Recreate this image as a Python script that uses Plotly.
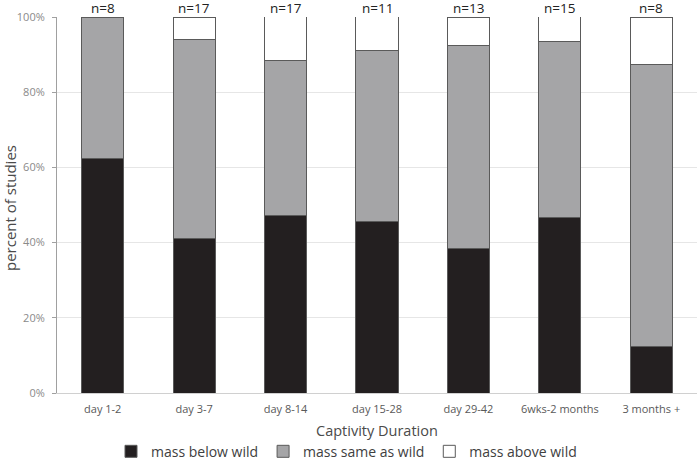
import plotly.graph_objects as go

categories = ["day 1-2", "day 3-7", "day 8-14", "day 15-28", "day 29-42", "6wks-2 months", "3 months +"]
n_labels = ["n=8", "n=17", "n=17", "n=11", "n=13", "n=15", "n=8"]
below = [62.5, 41.2, 47.1, 45.5, 38.5, 46.7, 12.5]
same = [37.5, 52.9, 41.2, 45.5, 53.8, 46.7, 75.0]
above = [0.0, 5.9, 11.8, 9.1, 7.7, 6.7, 12.5]

font = "Open Sans, Liberation Sans, sans-serif"
line = dict(color="#5a5a5a", width=1)

fig = go.Figure()
fig.add_trace(go.Bar(x=categories, y=below, name="mass below wild",
                     marker=dict(color="#231f20", line=line)))
fig.add_trace(go.Bar(x=categories, y=same, name="mass same as wild",
                     marker=dict(color="#a5a5a7", line=line)))
fig.add_trace(go.Bar(x=categories, y=above, name="mass above wild",
                     marker=dict(color="#ffffff", line=line)))

for c, t in zip(categories, n_labels):
    fig.add_annotation(x=c, y=100, yref="y", text=t, showarrow=False,
                       yanchor="middle", yshift=9,
                       font=dict(size=13.5, color="#222222", family=font))

fig.add_annotation(x=0.5, xref="paper", y=0, yref="paper", yshift=-37,
                   text="Captivity Duration", showarrow=False, yanchor="middle",
                   font=dict(size=14.5, color="#4a4a4a", family=font))
fig.add_annotation(x=0, xref="paper", y=0.5, yref="paper", xshift=-47, yshift=-3,
                   text="percent of studies", showarrow=False, textangle=-90,
                   xanchor="center", yanchor="middle",
                   font=dict(size=15, color="#4a4a4a", family=font))

fig.update_layout(
    barmode="stack",
    bargap=0.54,
    width=700, height=460,
    margin=dict(l=57, r=3, t=17, b=67, autoexpand=False),
    plot_bgcolor="white", paper_bgcolor="white",
    font=dict(family=font, color="#595959"),
    showlegend=True,
    legend=dict(orientation="h", x=0.495, xref="container", xanchor="center",
                y=0.018, yref="container", yanchor="middle",
                font=dict(size=14, color="#404040"), traceorder="normal"),
    xaxis=dict(showline=True, linecolor="#d0d0d0", ticks="", automargin=False,
               ticklabelstandoff=6, tickfont=dict(size=11, color="#595959")),
    yaxis=dict(range=[0, 100], dtick=20, ticksuffix="%", showline=True, linecolor="#a0a0a0",
               ticks="outside", ticklen=4, tickcolor="#a0a0a0", automargin=False,
               ticklabelstandoff=5,
               gridcolor="#e6e6e6", tickfont=dict(size=11, color="#8a8a8a"),
               zeroline=False),
)
fig.write_html("out.html", config={"displayModeBar": False},
               post_script="document.body.style.margin='0';")
